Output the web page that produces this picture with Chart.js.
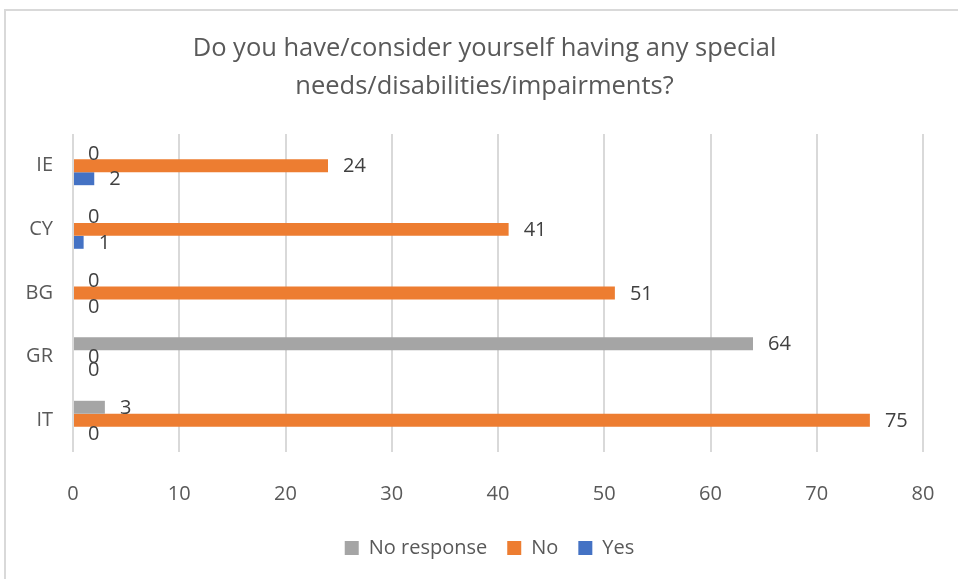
<!DOCTYPE html>
<html>
<head>
<meta charset="utf-8">
<script src="https://cdn.jsdelivr.net/npm/chart.js@4/dist/chart.umd.min.js"></script>
<style>
  html, body { margin:0; padding:0; background:#fff; }
  #wrap { position:relative; width:958px; height:579px; overflow:hidden; }
  #frame { position:absolute; left:4px; top:9px; width:980px; height:600px; border-top:2px solid #d9d9d9; border-left:2px solid #d9d9d9; pointer-events:none; }
  canvas { position:absolute; left:0; top:0; }
</style>
</head>
<body>
<div id="wrap">
  <canvas id="chart" width="958" height="579"></canvas>
  <div id="frame"></div>
</div>
<script>
const categories = ['IE', 'CY', 'BG', 'GR', 'IT'];
const noResponse = [0, 0, 0, 64, 3];
const noValues   = [24, 41, 51, 0, 75];
const yesValues  = [2, 1, 0, 0, 0];
const xTicks = [0, 10, 20, 30, 40, 50, 60, 70, 80];
const titleLines = ['Do you have/consider yourself having any special', 'needs/disabilities/impairments?'];

const FONT = "'Open Sans', 'Liberation Sans', sans-serif";

// values next to the end of each bar
const barLabels = {
  id: 'barLabels',
  afterDatasetsDraw(chart){
    const ctx = chart.ctx;
    ctx.save();
    ctx.font = '20px ' + FONT;
    ctx.fillStyle = '#404040';
    ctx.textAlign = 'left';
    ctx.textBaseline = 'middle';
    chart.data.datasets.forEach((ds, i) => {
      chart.getDatasetMeta(i).data.forEach((bar, j) => {
        ctx.fillText(String(ds.data[j]), bar.x + 15, bar.y + 1);
      });
    });
    ctx.restore();
  }
};

// title and legend are centred on the whole chart, not on the padded area
const centreBoxes = {
  id: 'centreBoxes',
  afterLayout(chart){
    if (chart.titleBlock) { chart.titleBlock.left += 23; chart.titleBlock.right += 23; }
    if (chart.legend) { chart.legend.left += 28; chart.legend.right += 28; }
  }
};

new Chart(document.getElementById('chart'), {
  type: 'bar',
  data: {
    labels: categories,
    datasets: [
      { label: 'No response', data: noResponse, backgroundColor: '#a5a5a5' },
      { label: 'No', data: noValues, backgroundColor: '#ed7d31' },
      { label: 'Yes', data: yesValues, backgroundColor: '#4472c4' }
    ]
  },
  options: {
    indexAxis: 'y',
    responsive: false,
    animation: false,
    categoryPercentage: 0.61,
    barPercentage: 1.0,
    layout: { padding: { left: 0, right: 35, top: 0, bottom: 11 } },
    scales: {
      x: {
        min: 0, max: 80,
        afterBuildTicks(scale){ scale.ticks = xTicks.map(v => ({ value: v })); },
        afterFit(scale){ scale.height = 66; },
        grid: { color: '#d9d9d9', lineWidth: 2, drawTicks: false },
        border: { display: false },
        ticks: { padding: 20, color: '#595959', font: { family: FONT, size: 20, lineHeight: 2.2 } }
      },
      y: {
        afterFit(scale){ scale.width = 73; },
        grid: { display: false, drawTicks: false },
        border: { display: false },
        ticks: { padding: 20, color: '#595959', font: { family: FONT, size: 20 } }
      }
    },
    plugins: {
      title: {
        display: true,
        text: titleLines,
        color: '#595959',
        font: { family: FONT, size: 25.5, weight: 'normal', lineHeight: 1.49 },
        padding: { top: 30, bottom: 28 }
      },
      legend: {
        position: 'bottom',
        labels: {
          boxWidth: 14, boxHeight: 14, padding: 20,
          color: '#595959',
          font: { family: FONT, size: 20 }
        }
      },
      tooltip: { enabled: false }
    }
  },
  plugins: [barLabels, centreBoxes]
});
</script>
</body>
</html>
